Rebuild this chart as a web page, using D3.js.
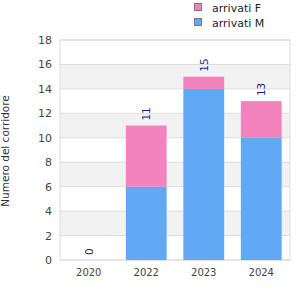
<!DOCTYPE html>
<html lang="en">
<head>
<meta charset="UTF-8">
<script src="https://d3js.org/d3.v7.min.js"></script>
<style>
  body { margin: 0; background: #fff; font-family: "DejaVu Sans", sans-serif; }
  svg { display: block; }
</style>
</head>
<body>
<svg id="chart" width="300" height="300"></svg>
<script>
const years = ['2020', '2022', '2023', '2024'];
const arrivatiM = [0, 6, 14, 10];
const arrivatiF = [0, 5, 1, 3];
const yTicks = [0, 2, 4, 6, 8, 10, 12, 14, 16, 18];
const seriesNames = ['arrivati F', 'arrivati M'];
const colors = { 'arrivati M': '#61a9f4', 'arrivati F': '#f383bc' };

const svg = d3.select('#chart');
const margin = { top: 40, right: 10, bottom: 40, left: 60 };
const width = 300 - margin.left - margin.right;
const height = 300 - margin.top - margin.bottom;

const g = svg.append('g').attr('transform', `translate(${margin.left},${margin.top})`);

const x = d3.scaleBand().domain(years).range([0, width]).paddingInner(0.29).paddingOuter(0.145);
const y = d3.scaleLinear().domain([0, 18]).range([height, 0]);

// alternating bands
for (let i = 0; i < yTicks.length - 1; i++) {
  if (i % 2 === 1) {
    g.append('rect')
      .attr('x', 0).attr('width', width)
      .attr('y', y(yTicks[i + 1])).attr('height', y(yTicks[i]) - y(yTicks[i + 1]))
      .attr('fill', '#f2f2f2');
  }
}
// grid lines
g.selectAll('.grid').data(yTicks).join('line')
  .attr('x1', 0).attr('x2', width)
  .attr('y1', d => y(d)).attr('y2', d => y(d))
  .attr('stroke', '#dcdcdc');
g.append('rect').attr('width', width).attr('height', height)
  .attr('fill', 'none').attr('stroke', '#dcdcdc');

const rows = years.map((yr, i) => ({ year: yr, m: arrivatiM[i], f: arrivatiF[i] }));

g.selectAll('.barM').data(rows).join('rect')
  .attr('x', d => x(d.year)).attr('width', x.bandwidth())
  .attr('y', d => y(d.m)).attr('height', d => y(0) - y(d.m))
  .attr('fill', colors['arrivati M']);
g.selectAll('.barF').data(rows).join('rect')
  .attr('x', d => x(d.year)).attr('width', x.bandwidth())
  .attr('y', d => y(d.m + d.f)).attr('height', d => y(d.m) - y(d.m + d.f))
  .attr('fill', colors['arrivati F']);

// totals
g.selectAll('.tot').data(rows).join('text')
  .attr('transform', d => `translate(${x(d.year) + x.bandwidth() / 2 + 4},${y(d.m + d.f) - 5}) rotate(-90)`)
  .attr('font-size', 10.5).attr('fill', '#1a1a8c')
  .text(d => d.m + d.f);

// axes
const yAxis = g.append('g').call(d3.axisLeft(y).tickValues(yTicks).tickSize(0).tickPadding(8));
yAxis.select('.domain').remove();
yAxis.selectAll('text').attr('font-size', 11).attr('fill', '#444').attr('font-family', '"DejaVu Sans", sans-serif');

const xAxis = g.append('g').attr('transform', `translate(0,${height})`)
  .call(d3.axisBottom(x).tickSize(0).tickPadding(9));
xAxis.select('.domain').remove();
xAxis.selectAll('text').attr('font-size', 10).attr('fill', '#444').attr('font-family', '"DejaVu Sans", sans-serif');

svg.append('text')
  .attr('transform', `translate(9,${margin.top + height / 2 + 1}) rotate(-90)`)
  .attr('text-anchor', 'middle').attr('font-size', 10.5).attr('fill', '#333')
  .text('Numero del corridore');

// legend
const leg = svg.append('g').attr('transform', 'translate(194,3)');
seriesNames.forEach((s, i) => {
  leg.append('rect').attr('x', 0.5).attr('y', i * 15 + 0.5).attr('width', 7).attr('height', 7)
    .attr('fill', colors[s]).attr('stroke', '#777');
  leg.append('text').attr('x', 18).attr('y', i * 15 + 8.5)
    .attr('font-size', 11).attr('fill', '#222').text(s);
});
</script>
</body>
</html>
